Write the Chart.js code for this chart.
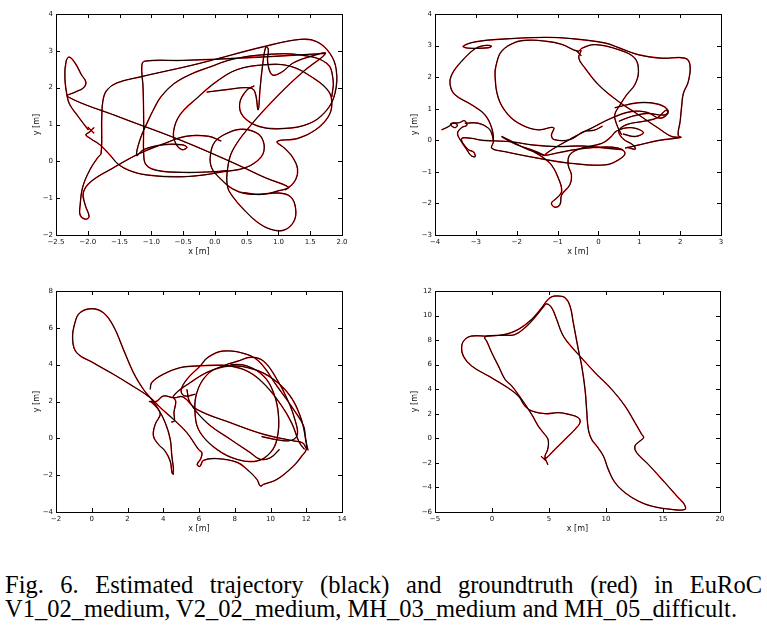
<!DOCTYPE html>
<html>
<head>
<meta charset="utf-8">
<script src="https://cdn.jsdelivr.net/npm/chart.js@4.4.1/dist/chart.umd.min.js"></script>
<style>
body { margin: 0; background: #fff; width: 767px; height: 632px; overflow: hidden; position: relative; }
canvas { position: absolute; }
.cap { position: absolute; left: 5px; width: 757px; font-family: 'Liberation Serif', 'Times New Roman', serif; font-size: 24.5px; line-height: 24px; color: #000; }
#cap1 { top: 573px; text-align: justify; text-align-last: justify; }
#cap2 { top: 597px; white-space: nowrap; }
</style>
</head>
<body>
<canvas id="c1" width="380" height="262" style="left:0px;top:0px"></canvas>
<canvas id="c2" width="367" height="262" style="left:400px;top:0px"></canvas>
<canvas id="c3" width="380" height="260" style="left:0px;top:280px"></canvas>
<canvas id="c4" width="367" height="260" style="left:400px;top:280px"></canvas>
<div class="cap" id="cap1">Fig. 6. Estimated trajectory (black) and groundtruth (red) in EuRoC</div>
<div class="cap" id="cap2">V1_02_medium, V2_02_medium, MH_03_medium and MH_05_difficult.</div>
<script>
// trajectories, [x, y] in metres, null = break between traced pieces
var v102 = [
    [-2.00, 0.93], [-1.90, 0.76], null,
    [-1.90, 0.92], [-1.97, 0.80], [-2.03, 0.72], [-1.96, 0.62], [-1.81, 0.45], [-1.65, 0.17], [-1.52, -0.08],
    [-1.33, -0.26], [-1.07, -0.37], [-0.55, -0.42], [-0.18, -0.37], [0.14, -0.28], [0.45, -0.19], [0.66, 0.00],
    [0.77, 0.27], [0.74, 0.63], [0.61, 0.81], [0.40, 0.87], [0.19, 0.76], [0.00, 0.53], [-0.07, 0.17],
    [-0.05, -0.18], [0.08, -0.46], [0.28, -0.75], [0.50, -0.88], [0.80, -0.88], [1.00, -0.80], [1.15, -0.72],
    [1.27, -0.50], [1.30, -0.20], [1.22, 0.12], [1.10, 0.35], [0.98, 0.54], [1.30, 0.62], [1.58, 0.85],
    [1.78, 1.20], [1.84, 1.55], [1.79, 1.90], [1.55, 2.26], [1.19, 2.58], [0.77, 2.62], [0.35, 2.49],
    [0.03, 2.17], [-0.28, 1.72], [-0.55, 1.26], [-0.65, 0.81], [-0.62, 0.50], [-0.52, 0.32], [-0.44, 0.38],
    [-0.52, 0.45], [-0.81, 0.45], [-1.12, 0.32], [-1.23, 0.16], [-1.18, 0.58], [-1.07, 1.03], [-0.97, 1.39],
    [-0.85, 1.75], [-0.65, 2.10], [-0.40, 2.35], [-0.10, 2.55], [0.30, 2.78], [0.81, 2.90], [1.34, 2.89],
    [1.76, 2.66], [1.86, 2.21], [1.84, 1.75], null,
    [-1.99, 0.85], [-2.07, 1.03], [-2.17, 1.26], [-2.28, 1.53], [-2.32, 1.73], [-2.36, 2.26], [-2.34, 2.72],
    [-2.29, 2.83], [-2.20, 2.67], [-2.10, 2.35], [-2.03, 2.15], [-2.07, 1.99], [-2.20, 1.88], [-2.32, 1.76],
    [-1.50, 1.20], [-0.55, 0.58], [0.30, -0.05], [0.80, -0.45], [1.16, -0.70], [1.10, -0.78], null,
    [0.62, 2.05], [0.50, 1.93], [0.39, 1.57], [0.45, 1.21], [0.71, 0.94], [1.07, 0.89], [1.49, 1.03],
    [1.76, 1.39], [1.89, 1.85], [1.91, 2.48], [1.81, 2.93], [1.60, 3.25], [1.34, 3.31], [0.76, 3.11],
    [-0.24, 2.66], [-1.18, 2.29], [-1.54, 2.13], [-1.70, 1.93], [-1.76, 1.66], [-1.78, 1.20], [-1.79, 0.22],
    [-1.84, 0.11], [-1.97, -0.24], [-2.08, -0.70], [-2.12, -1.19], [-2.12, -1.46], [-2.04, -1.57],
    [-1.98, -1.50], [-2.04, -1.19], [-2.07, -0.85], [-1.95, -0.55], [-1.60, -0.18], [-1.20, 0.20],
    [-0.80, 0.48], [-0.45, 0.68], [-0.10, 0.68], [0.10, 0.55], null,
    [-0.13, 1.88], [0.20, 1.95], [0.50, 2.00], [0.62, 1.92], [0.68, 1.40], [0.71, 1.95], [0.75, 2.60],
    [0.80, 3.10], [0.84, 3.05], [0.83, 2.70], [0.90, 2.35], [1.05, 2.42], [1.23, 2.67], [1.49, 2.84],
    [1.74, 2.93], [1.40, 2.45], [1.00, 1.80], [0.55, 0.95], [0.28, 0.30], [0.20, -0.20], [0.20, -0.70],
    [0.30, -1.00], [0.45, -1.30], [0.66, -1.64], [0.87, -1.84], [1.08, -1.87], [1.24, -1.64], [1.27, -1.28],
    [1.19, -0.96], [1.00, -0.86], [0.70, -0.90], [0.45, -0.85], null,
    [1.74, 2.93], [0.60, 2.82], [-0.50, 2.74], [-1.10, 2.72], [-1.15, 2.60], [-1.13, 2.00], [-1.12, 1.00],
    [-1.12, 0.20], [-1.08, -0.10], [-0.90, -0.25], [-0.50, -0.30], [0.00, -0.28], [0.20, -0.25]
];

var v202 = [
    [-0.55, 2.85], [-0.42, 2.68], null,
    [2.02, 0.09], [1.95, 0.17], [2.00, 0.60], [2.04, 1.12], [2.08, 1.49], [2.20, 1.86], [2.24, 2.39],
    [2.12, 2.60], [1.55, 2.60], [0.98, 2.71], [0.50, 2.93], [0.16, 3.08], [-0.66, 3.22], [-1.31, 3.26],
    [-2.29, 3.21], [-3.00, 3.12], [-3.31, 2.98], [-3.20, 2.92], [-2.70, 2.93], [-2.62, 2.98], [-2.80, 3.00],
    [-3.02, 2.90], [-3.35, 2.50], [-3.59, 2.08], [-3.63, 1.76], [-3.51, 1.44], [-3.10, 1.12], [-2.78, 0.81],
    [-2.61, 0.38], [-2.57, -0.04], [-2.61, -0.25], [-2.29, -0.36], [-1.47, -0.57], [-0.66, -0.73],
    [0.16, -0.78], [0.49, -0.62], [0.65, -0.41], [0.49, -0.25], [0.00, -0.22], [-0.60, -0.30], [-1.00, -0.40],
    [-1.31, -0.46], [-0.66, 0.06], [-0.18, 0.38], [0.32, 0.70], [0.81, 0.91], [1.20, 0.88], [1.50, 0.70],
    [1.70, 0.85], [1.65, 0.95], [1.45, 0.72], [1.10, 0.60], [0.70, 0.50], [0.50, 0.30], [0.60, 0.05],
    [0.85, -0.15], [0.90, -0.28], [0.70, -0.22], null,
    [0.57, 0.17], [0.45, 0.49], [0.40, 0.81], [0.53, 1.12], [0.69, 1.44], [0.89, 1.76], [0.98, 2.18],
    [0.89, 2.60], [0.49, 2.87], [-0.08, 3.03], [-0.40, 2.92], [-0.50, 2.82], [-0.90, 3.04], [-1.31, 3.14],
    [-1.72, 3.17], [-2.04, 3.10], [-2.37, 2.82], [-2.50, 2.40], [-2.53, 2.05], [-2.45, 1.34], [-2.21, 0.81],
    [-1.88, 0.49], [-1.47, 0.33], [-1.10, 0.40], [-1.15, 0.15], [-1.08, 0.02], [-0.70, 0.02], [-0.35, 0.28],
    [-0.10, 0.32], [0.10, 0.45], null,
    [-0.42, 2.85], [-0.48, 2.60], [-0.33, 2.29], [0.00, 1.76], [0.49, 1.23], [0.98, 0.81], [1.47, 0.38],
    [1.79, 0.12], [2.02, 0.09], [1.50, 0.00], [0.98, -0.15], [0.65, -0.25], null,
    [-3.84, 0.33], [-3.65, 0.45], [-3.55, 0.55], [-3.45, 0.48], [-3.52, 0.40], [-3.62, 0.52], [-3.40, 0.56],
    [-3.28, 0.62], [-3.22, 0.48], [-3.35, 0.40], [-3.45, 0.22], [-3.35, -0.05], [-3.22, -0.30], [-3.12, -0.48],
    [-3.02, -0.52], [-3.05, -0.38], [-3.20, -0.28], [-3.35, 0.05], [-3.10, 0.06], [-2.86, 0.00], [-2.53, -0.02],
    [-2.12, -0.05], [-1.60, -0.15], [-1.00, -0.20], [-0.40, -0.18], [0.20, -0.25], [0.60, -0.30], null,
    [-3.27, 0.54], [-2.94, 0.54], [-2.69, 0.38], [-2.60, 0.17], [-2.57, -0.04], null,
    [-2.37, 0.12], [-2.10, -0.05], [-1.80, -0.25], [-1.50, -0.40], [-1.32, -0.48], [-1.60, -0.32],
    [-2.00, -0.14], [-2.30, 0.06], [-2.37, 0.12], null,
    [-1.60, -0.35], [-1.35, -0.55], [-1.15, -0.78], [-0.98, -1.20], [-0.90, -1.62], [-1.02, -1.83],
    [-1.15, -1.99], [-1.06, -2.12], [-0.94, -2.03], [-0.90, -1.73], [-0.70, -1.41], [-0.66, -1.10],
    [-0.74, -0.78], [-0.70, -0.46], [-0.41, -0.25], [0.08, -0.10], [0.30, 0.10], [0.45, 0.30], [0.80, 0.40],
    [1.10, 0.25], [0.90, 0.12], [0.60, 0.20], null,
    [0.40, 1.03], [0.98, 1.19], [1.47, 1.14], [1.71, 0.93], [1.60, 0.80], [1.20, 0.85], [0.80, 0.75], [0.50, 0.60]
];

var mh03 = [
    [4.54, -1.95], [4.57, -1.68], [4.48, -0.96], [4.39, -0.05], [4.11, 0.85], [3.73, 1.57], [3.27, 2.21],
    [2.89, 2.66], [2.33, 3.57], [1.77, 4.83], [1.21, 6.10], [0.65, 6.82], [0.00, 7.04], [-0.66, 6.82],
    [-0.94, 6.28], [-1.07, 5.38], [-0.84, 4.65], [0.09, 4.10], [1.21, 3.48], [2.14, 2.93], [3.27, 2.21],
    [3.83, 1.67], [4.57, 1.03], [5.32, 0.31], [5.97, -0.60], [6.16, -0.78], [6.10, -1.10], [5.90, -1.42],
    [6.05, -1.52], [6.25, -1.20], [7.00, -1.10], [8.12, -1.30], [8.68, -1.68], [9.24, -2.23], [9.43, -2.59],
    [9.61, -2.50], [10.36, -2.23], [11.29, -1.50], [11.75, -0.96], [12.00, -0.60], [11.94, 0.13],
    [11.66, 1.21], [11.10, 2.30], [10.17, 3.20], [9.06, 3.75], [7.75, 3.93], [6.63, 3.66], [5.50, 3.02],
    [4.57, 2.30], [4.70, 2.00], [4.60, 1.40], [4.62, 0.95], [4.45, 0.88], null,
    [3.30, 2.00], [3.64, 1.67], [3.83, 1.30], [3.55, 0.76], [3.45, 0.13], [3.73, -0.33], [4.10, -0.69],
    [4.39, -1.24], [4.50, -1.90], [4.60, -1.95], null,
    [12.10, -0.65], [11.96, -0.05], [11.85, 0.67], [11.29, 1.57], [10.36, 2.84], [9.43, 4.10], [8.68, 4.56],
    [7.37, 4.74], [6.50, 4.40], [6.07, 3.93], [5.32, 3.20], [5.00, 2.60], [5.20, 2.30], [5.80, 2.40], null,
    [7.75, 4.02], [8.68, 3.93], [9.61, 3.38], [10.17, 2.48], [10.45, 1.21], [10.36, -0.05], [9.99, -0.78],
    [9.24, -1.23], [8.12, -1.14], [7.00, -0.60], [6.07, 0.31], [5.79, 1.21], [5.88, 2.48], [6.50, 3.50],
    [7.40, 3.95], [8.20, 4.20], [8.90, 4.40], [9.60, 4.20], [10.30, 3.30], [11.00, 2.00], [11.40, 0.90],
    [11.50, 0.20], [11.20, -0.10], [10.50, -0.10], [9.50, 0.10], null,
    [3.20, 2.00], [3.60, 2.00], [4.01, 2.30], [4.60, 2.20], [5.10, 2.25], [5.88, 1.57], [7.75, 0.85],
    [9.61, 0.22], [11.29, -0.14], [11.80, -0.25], [12.00, -0.55], null,
    [3.27, 2.66], [3.36, 3.03], [4.01, 3.48], [4.95, 3.84], [5.88, 3.93], [7.00, 3.97], [7.75, 3.93],
    [8.80, 3.60], [9.70, 2.90], [10.60, 1.80], [11.20, 0.80], [11.60, -0.20], [11.90, -0.60], null,
    [5.32, 2.66], [5.50, 1.94], [6.44, 0.85], [7.75, -0.05], [8.87, -0.78], [9.43, -1.14], [10.00, -1.05],
    [10.50, -0.60]
];

var mh05 = [
    [4.30, -1.45], [4.70, -1.80], null,
    [4.90, -2.15], [4.65, -1.50], [4.85, -1.00], [4.95, -0.55], [4.90, -0.05], [4.50, 0.46], [4.06, 1.00],
    [3.48, 1.95], [2.60, 3.18], [1.73, 4.27], [1.14, 4.81], [0.56, 5.90], [-0.03, 6.99], [-0.47, 7.93],
    [-0.65, 8.20], [-0.30, 8.35], [1.14, 8.40], [2.00, 8.45], [3.00, 9.10], [3.90, 10.00], [4.50, 10.70],
    [4.80, 10.95], [5.23, 10.64], [5.67, 9.69], [6.11, 8.60], [6.55, 7.93], [7.57, 6.84], [9.04, 5.35],
    [10.50, 3.99], [11.67, 2.63], [12.54, 1.28], [13.13, 0.33], [13.30, 0.06], [12.98, -0.22], [12.54, -0.62],
    [12.69, -1.17], [13.71, -2.12], [15.17, -3.61], [16.35, -4.84], [16.87, -5.38], [16.93, -5.79],
    [15.76, -5.79], [14.00, -5.52], [12.84, -5.11], [11.67, -4.43], [10.79, -3.61], [10.20, -2.53],
    [9.77, -1.44], [9.18, -0.62], [8.74, -0.08], [8.45, 0.73], [8.30, 2.36], [8.16, 3.99], [7.87, 5.89],
    [7.57, 7.25], [7.13, 9.42], [6.84, 10.78], [6.40, 11.46], [5.82, 11.59], [5.23, 11.53], [4.80, 11.19],
    [4.36, 10.64], [3.48, 9.69], [2.31, 8.87], [1.14, 8.47], [-0.32, 8.33], [-1.78, 8.33], [-2.37, 8.06],
    [-2.66, 7.52], [-2.51, 6.70], [-1.78, 5.89], [-0.32, 5.08], [1.14, 4.27], [2.31, 3.45], [2.89, 2.63],
    [3.48, 2.23], [4.65, 2.01], [5.82, 2.09], [6.70, 1.96], [7.57, 1.68], [7.72, 1.28], [7.28, 0.73],
    [6.70, 0.19], [5.82, -0.62], [5.23, -1.17], [4.80, -1.57], [4.50, -1.65]
];

// axis ranges and tick steps of the four panels
var v102X = [-2.5, 2.0, 0.5], v102Y = [-2, 4, 1];
var v202X = [-4, 3, 1], v202Y = [-3, 4, 1];
var mh03X = [-2, 14, 2], mh03Y = [-4, 8, 2];
var mh05X = [-5, 20, 5], mh05Y = [-6, 12, 2];

function toXY(p) {
    return p ? { x: p[0], y: p[1] } : { x: null, y: null };
}

function fmt(dec) {
    return function(v) {
        return (v < 0 ? '\u2212' : '') + Math.abs(v).toFixed(dec);
    };
}

var frameTicks = {
    id: 'frameTicks',
    afterDraw: function(chart) {
        var ctx = chart.ctx, a = chart.chartArea, sx = chart.scales.x, sy = chart.scales.y;
        ctx.save();
        ctx.strokeStyle = '#000';
        ctx.lineWidth = 1;
        ctx.beginPath();
        sx.ticks.forEach(function(t) {
            var px = Math.round(sx.getPixelForValue(t.value)) + 0.5;
            ctx.moveTo(px, a.bottom); ctx.lineTo(px, a.bottom - 4);
            ctx.moveTo(px, a.top); ctx.lineTo(px, a.top + 4);
        });
        sy.ticks.forEach(function(t) {
            var py = Math.round(sy.getPixelForValue(t.value)) + 0.5;
            ctx.moveTo(a.left, py); ctx.lineTo(a.left + 4, py);
            ctx.moveTo(a.right, py); ctx.lineTo(a.right - 4, py);
        });
        ctx.stroke();
        ctx.strokeRect(a.left + 0.5, a.top + 0.5, a.right - a.left, a.bottom - a.top);
        ctx.restore();
    }
};

var tickFont = { family: 'DejaVu Sans', size: 7 };
var titleFont = { family: 'DejaVu Sans', size: 8 };

function makePanel(id, pts, xr, yr, xDec, yDec, box) {
    var data = pts.map(toXY);
    new Chart(document.getElementById(id), {
        type: 'scatter',
        data: {
            datasets: [{
                label: 'estimated',
                data: data,
                showLine: true,
                borderColor: '#000',
                borderWidth: 1,
                tension: 0.4,
                pointRadius: 0
            }, {
                label: 'groundtruth',
                data: data,
                showLine: true,
                borderColor: '#ff0000',
                borderWidth: 1.4,
                tension: 0.4,
                pointRadius: 0
            }]
        },
        options: {
            responsive: false,
            animation: false,
            devicePixelRatio: 1,
            layout: { padding: { left: box.left, right: box.right, top: box.top, bottom: 0 } },
            plugins: { legend: { display: false }, tooltip: { enabled: false } },
            scales: {
                x: {
                    type: 'linear',
                    min: xr[0], max: xr[1],
                    grid: { display: false, drawTicks: false },
                    border: { display: false },
                    ticks: { stepSize: xr[2], autoSkip: false, maxRotation: 0, padding: 3, color: '#111', font: tickFont, callback: fmt(xDec) },
                    title: { display: true, text: 'x [m]', color: '#111', font: titleFont, padding: { top: 0, bottom: box.xt } },
                    afterFit: function(s) { s.height = box.xh; }
                },
                y: {
                    type: 'linear',
                    min: yr[0], max: yr[1],
                    grid: { display: false, drawTicks: false },
                    border: { display: false },
                    ticks: { stepSize: yr[2], autoSkip: false, padding: 3, color: '#111', font: tickFont, callback: fmt(yDec) },
                    title: { display: true, text: 'y [m]', color: '#111', font: titleFont, padding: { top: box.yt, bottom: 0 } },
                    afterFit: function(s) { s.width = 26; }
                }
            }
        },
        plugins: [frameTicks]
    });
}

makePanel('c1', v102, v102X, v102Y, 1, 0, { left: 30, right: 38, top: 14, xh: 27, xt: 5, yt: 2 });
makePanel('c2', v202, v202X, v202Y, 0, 0, { left: 9, right: 46, top: 14, xh: 27, xt: 5, yt: 1 });
makePanel('c3', mh03, mh03X, mh03Y, 0, 0, { left: 30, right: 38, top: 11, xh: 28, xt: 6, yt: 2 });
makePanel('c4', mh05, mh05X, mh05Y, 0, 0, { left: 9, right: 47, top: 11, xh: 28, xt: 6, yt: 1 });
</script>
</body>
</html>
